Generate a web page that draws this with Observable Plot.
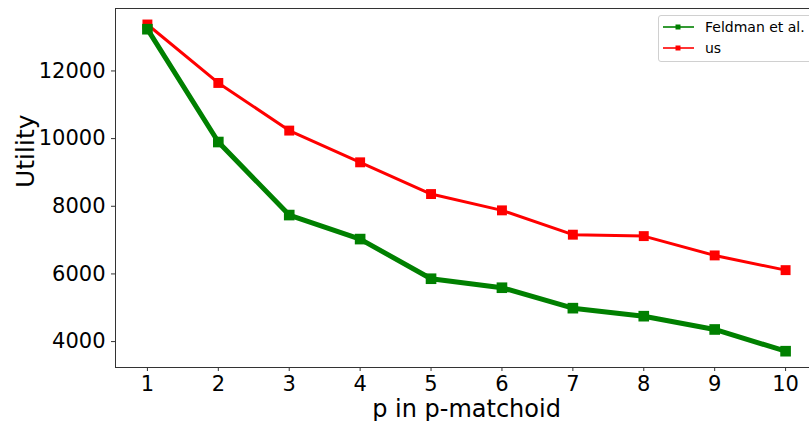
<!DOCTYPE html>
<html><head><meta charset="utf-8">
<script src="https://cdn.jsdelivr.net/npm/d3@7"></script>
<script src="https://cdn.jsdelivr.net/npm/@observablehq/plot@0.6"></script>
<style>
body{margin:0;background:#fff;}
#wrap{position:relative;width:809px;height:421px;overflow:hidden;font-family:"DejaVu Sans",sans-serif;background:#fff;}
#legend{position:absolute;left:658px;top:15px;width:170px;height:45px;border:1px solid #d0d0d0;border-radius:3px;background:rgba(255,255,255,0.85);font-size:14px;color:#000;}
.li{position:absolute;left:4px;height:20px;display:flex;align-items:center;}
.li svg{margin-right:11px;}
</style></head><body><div id="wrap"></div>
<script>
const pValues = [1, 2, 3, 4, 5, 6, 7, 8, 9, 10];
const feldman = [13234, 9899, 7740, 7030, 5858, 5592, 4988, 4751, 4358, 3716];
const us = [13373, 11645, 10237, 9299, 8361, 7879, 7160, 7118, 6547, 6112];
const seriesNames = ["Feldman et al.", "us"];
const seriesColors = ["green", "red"];
const yTicks = [4000, 6000, 8000, 10000, 12000];
const xTicks = pValues;
const xLabel = "p in p-matchoid";
const yLabel = "Utility";

const rows = [];
pValues.forEach((p, i) => {
  rows.push({p, v: feldman[i], s: seriesNames[0]});
  rows.push({p, v: us[i], s: seriesNames[1]});
});
const fRows = rows.filter(d => d.s === seriesNames[0]);
const uRows = rows.filter(d => d.s === seriesNames[1]);

const chart = Plot.plot({
  width: 809,
  height: 421,
  marginLeft: 115,
  marginRight: -8,
  marginTop: 8,
  marginBottom: 54,
  style: {fontFamily: "DejaVu Sans, sans-serif", background: "transparent", overflow: "hidden"},
  x: {domain: [0.55, 10.45]},
  y: {domain: [3234, 13846]},
  marks: [
    Plot.axisX({ticks: xTicks, tickSize: 4, tickPadding: 5, fontSize: 21, label: null, stroke: "#333", color: "#000", tickFormat: d3.format("d")}),
    Plot.axisY({ticks: yTicks, tickSize: 4, tickPadding: 6, fontSize: 21, label: null, stroke: "#333", color: "#000", tickFormat: d3.format("d")}),
    Plot.ruleX([0.55], {stroke: "#333", strokeWidth: 1}),
    Plot.ruleY([3234], {stroke: "#333", strokeWidth: 1}),
    Plot.ruleY([13846], {x1: 0.55, x2: 10.45, stroke: "#333", strokeWidth: 1}),
    Plot.line(uRows, {x: "p", y: "v", stroke: seriesColors[1], strokeWidth: 3}),
    Plot.dot(uRows, {x: "p", y: "v", symbol: "square", r: 5.6, fill: seriesColors[1], stroke: "none"}),
    Plot.line(fRows, {x: "p", y: "v", stroke: seriesColors[0], strokeWidth: 5}),
    Plot.dot(fRows, {x: "p", y: "v", symbol: "square", r: 6, fill: seriesColors[0], stroke: "none"}),
    Plot.text([xLabel], {frameAnchor: "bottom", text: d => d, dy: 49, lineAnchor: "bottom", fontSize: 24, fill: "#000"}),
    Plot.text([yLabel], {frameAnchor: "left", text: d => d, rotate: -90, dx: -82, lineAnchor: "bottom", fontSize: 25, fill: "#000"})
  ]
});
const wrap = document.getElementById("wrap");
wrap.appendChild(chart);

const legend = document.createElement("div");
legend.id = "legend";
seriesNames.forEach((name, i) => {
  const item = document.createElement("div");
  item.className = "li";
  item.style.top = (i === 0 ? 1 : 22) + "px";
  item.innerHTML = `<svg width="31" height="8"><line x1="0" y1="4" x2="31" y2="4" stroke="${seriesColors[i]}" stroke-width="1.6"/><rect x="12.5" y="1.5" width="5" height="5" fill="${seriesColors[i]}"/></svg><span>${name}</span>`;
  legend.appendChild(item);
});
wrap.appendChild(legend);
</script>
</body></html>
